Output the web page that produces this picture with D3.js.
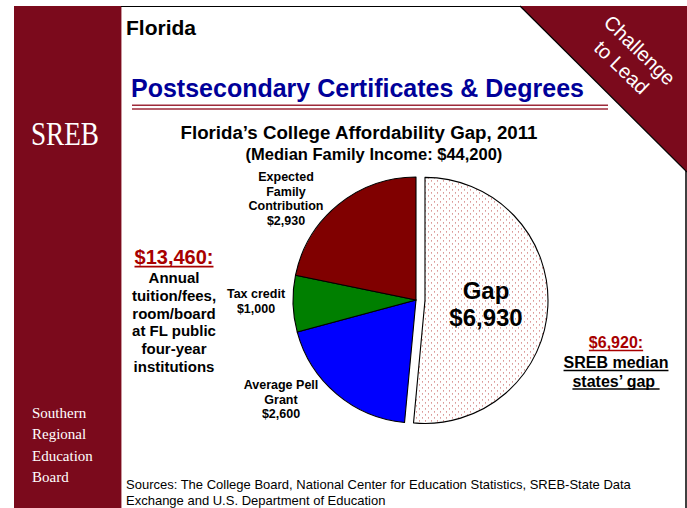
<!DOCTYPE html>
<html>
<head>
<meta charset="utf-8">
<script src="https://cdn.jsdelivr.net/npm/d3@7"></script>
<style>
  html, body { margin: 0; padding: 0; background: #fff; }
  svg { display: block; }
  text { font-family: "Liberation Sans", Arial, sans-serif; }
  text.serif { font-family: "Liberation Serif", "Times New Roman", serif; }
</style>
</head>
<body>
<svg id="slide" width="687" height="508"></svg>
<script>
// ---- data ----
const categories = ["Gap", "Average Pell Grant", "Tax credit", "Expected Family Contribution"];
const values = [6930, 2600, 1000, 2930];
const totalCost = 13460;
const medianStatesGap = 6920;
const medianIncome = 44200;
const stateName = "Florida";
const year = 2011;

const money = d3.format("$,");
const W = 687, H = 508;
const maroon = "#7b0a1c";
const svg = d3.select("#slide");

// ---- slide frame ----
svg.append("rect").attr("x", 0).attr("y", 0).attr("width", W).attr("height", H).attr("fill", "#fff");
svg.append("rect").attr("x", 14).attr("y", 6).attr("width", 107).attr("height", H - 6).attr("fill", maroon);
svg.append("line").attr("x1", 121.5).attr("x2", 121.5).attr("y1", 6).attr("y2", H)
  .attr("stroke", "#c9979e").attr("stroke-width", 1);
svg.append("line").attr("x1", 121).attr("x2", 686.5).attr("y1", 6.5).attr("y2", 6.5)
  .attr("stroke", "#000").attr("stroke-width", 1);
svg.append("line").attr("x1", 686).attr("x2", 686).attr("y1", 6).attr("y2", H)
  .attr("stroke", "#000").attr("stroke-width", 1.5);

// corner banner
svg.append("path").attr("d", "M520,6 L687,6 L687,172 Z").attr("fill", maroon);
svg.append("line").attr("x1", 520).attr("y1", 6).attr("x2", 687).attr("y2", 172)
  .attr("stroke", "#000").attr("stroke-width", 1.2);
const banner = svg.append("g").attr("transform", "translate(632,58) rotate(44)");
banner.append("text").attr("x", 0).attr("y", -4).attr("text-anchor", "middle")
  .attr("font-size", 20).attr("fill", "#fff").text("Challenge");
banner.append("text").attr("x", -1).attr("y", 21).attr("text-anchor", "middle")
  .attr("font-size", 20).attr("fill", "#fff").text("to Lead");

// logo and organisation name
svg.append("text").attr("class", "serif").attr("x", 31).attr("y", 145)
  .attr("font-size", 33).attr("fill", "#fff")
  .attr("textLength", 68).attr("lengthAdjust", "spacingAndGlyphs").text("SREB");
["Southern", "Regional", "Education", "Board"].forEach((w, i) => {
  svg.append("text").attr("class", "serif").attr("x", 32).attr("y", 418 + i * 21.3)
    .attr("font-size", 15).attr("fill", "#fff").text(w);
});

// headings
svg.append("text").attr("x", 126).attr("y", 35).attr("font-size", 21).attr("font-weight", "bold")
  .attr("fill", "#000").text(stateName);
svg.append("text").attr("x", 131).attr("y", 97).attr("font-size", 25).attr("font-weight", "bold")
  .attr("fill", "#000099").text("Postsecondary Certificates & Degrees");
[105.3, 109].forEach(y => {
  svg.append("line").attr("x1", 132).attr("x2", 608).attr("y1", y).attr("y2", y)
    .attr("stroke", "#9e2a3a").attr("stroke-width", 1.4);
});

svg.append("text").attr("x", 359).attr("y", 139).attr("text-anchor", "middle")
  .attr("font-size", 18.7).attr("font-weight", "bold")
  .text(`${stateName}\u2019s College Affordability Gap, ${year}`);
svg.append("text").attr("x", 374).attr("y", 160).attr("text-anchor", "middle")
  .attr("font-size", 16.5).attr("font-weight", "bold")
  .text(`(Median Family Income: ${money(medianIncome)})`);

// ---- pie ----
const defs = svg.append("defs");
const pat = defs.append("pattern").attr("id", "dots").attr("patternUnits", "userSpaceOnUse")
  .attr("width", 6).attr("height", 6);
pat.append("rect").attr("width", 6).attr("height", 6).attr("fill", "#fff");
pat.append("rect").attr("x", 0).attr("y", 0).attr("width", 1).attr("height", 1).attr("fill", "#c0504d");
pat.append("rect").attr("x", 3).attr("y", 3).attr("width", 1).attr("height", 1).attr("fill", "#c0504d");

const fills = d3.scaleOrdinal().domain(categories)
  .range(["url(#dots)", "#0000ff", "#007f00", "#800000"]);

const cx = 416, cy = 300, R = 123, explode = 9;
const pie = d3.pie().sort(null).value(d => d.value);
const arc = d3.arc().innerRadius(0).outerRadius(R);
const slices = pie(categories.map((c, i) => ({ category: c, value: values[i] })));

const pieG = svg.append("g").attr("transform", `translate(${cx},${cy})`);
pieG.selectAll("path").data(slices).join("path")
  .attr("d", arc)
  .attr("transform", d => {
    if (d.data.category !== "Gap") return null;
    const mid = (d.startAngle + d.endAngle) / 2;
    return `translate(${explode * Math.sin(mid)},${-explode * Math.cos(mid)})`;
  })
  .attr("fill", d => fills(d.data.category))
  .attr("stroke", "#000").attr("stroke-width", 1.1).attr("stroke-linejoin", "round");

// label helper: centred multi-line text
function block(x, y0, step, lines, size, opts = {}) {
  lines.forEach((l, i) => {
    const el = svg.append("text").attr("x", x).attr("y", y0 + i * step)
      .attr("text-anchor", "middle").attr("font-size", size).attr("font-weight", "bold")
      .attr("fill", opts.fill || "#000").style("white-space", "pre").text(l);
    if (opts.underline) {
      const w = el.node().getComputedTextLength();
      svg.append("line").attr("x1", x - w / 2).attr("x2", x + w / 2)
        .attr("y1", y0 + i * step + 2.6).attr("y2", y0 + i * step + 2.6)
        .attr("stroke", opts.fill || "#000").attr("stroke-width", size / 11);
    }
  });
}

const byCat = Object.fromEntries(slices.map(s => [s.data.category, s.data.value]));

block(286, 181, 14.5, ["Expected", "Family", "Contribution", money(byCat["Expected Family Contribution"])], 12.5);
block(256, 298, 15, ["Tax credit", money(byCat["Tax credit"])], 12.5);
block(281, 389, 14.7, ["Average Pell", "Grant", money(byCat["Average Pell Grant"])], 12.5);
block(486, 299, 26.5, ["Gap", money(byCat["Gap"])], 24);

// total cost note
block(174, 264, 1, [money(totalCost) + ":"], 20, { fill: "#a80000", underline: true });
block(174, 283, 17.8, ["Annual", "tuition/fees,", "room/board", "at FL public", "four-year", "institutions"], 15);

// regional comparison note
block(616, 348, 1, [money(medianStatesGap) + ":"], 16, { fill: "#a80000", underline: true });
block(616, 368, 18.5, ["SREB median", "states\u2019 gap "], 16, { underline: true });

// sources
svg.append("text").attr("x", 126).attr("y", 489).attr("font-size", 13)
  .text("Sources: The College Board, National Center for Education Statistics, SREB-State Data");
svg.append("text").attr("x", 126).attr("y", 505).attr("font-size", 13)
  .text("Exchange and U.S. Department of Education");
</script>
</body>
</html>
